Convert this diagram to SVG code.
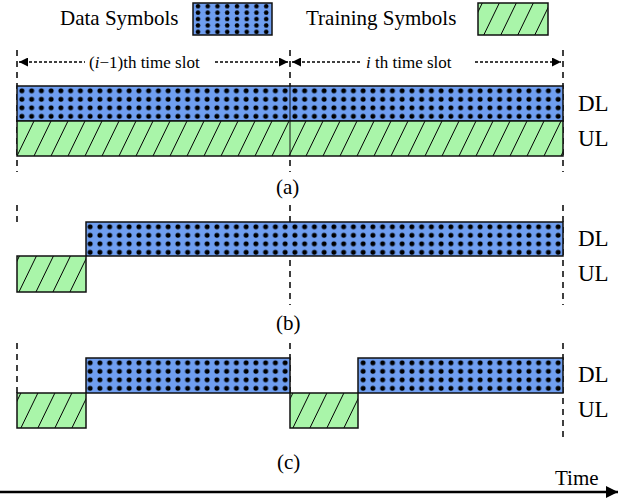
<svg xmlns="http://www.w3.org/2000/svg" width="626" height="504" viewBox="0 0 626 504" font-family="'Liberation Serif','Times New Roman','DejaVu Serif',serif">
<defs>
<pattern id="dots" patternUnits="userSpaceOnUse" x="17" y="86" width="9.75" height="8.5">
<rect width="9.75" height="8.5" fill="#6f9ef0"/><circle cx="4.9" cy="4.8" r="2.5" fill="#000"/></pattern>
<pattern id="dotsL" patternUnits="userSpaceOnUse" x="193" y="3" width="9.75" height="6.4">
<rect width="9.75" height="6.4" fill="#6f9ef0"/><circle cx="5" cy="3.2" r="2.3" fill="#000"/></pattern>
<pattern id="hatch" patternUnits="userSpaceOnUse" width="17" height="35" x="17" y="121">
<rect width="17" height="35" fill="#a9f5a9"/>
<path d="M-17,35 L0,0 M0,35 L17,0 M17,35 L34,0" stroke="#000" stroke-width="1"/></pattern>
<marker id="ar" viewBox="0 0 10 10" refX="10" refY="5" markerWidth="9" markerHeight="9" orient="auto-start-reverse" markerUnits="userSpaceOnUse"><path d="M0,0 L10,5 L0,10 z" fill="#000"/></marker>
<marker id="ar2" viewBox="0 0 10 10" refX="10" refY="5" markerWidth="14" markerHeight="12" orient="auto" markerUnits="userSpaceOnUse"><path d="M0,0 L10,5 L0,10 z" fill="#000"/></marker>
</defs>
<style>
text{font-family:'Liberation Serif','Times New Roman','DejaVu Serif',serif;font-size:21px;fill:#000}
.d{fill:url(#dots);stroke:#111;stroke-width:1.5}
.h{fill:url(#hatch);stroke:#111;stroke-width:1.5}
.v{stroke:#000;stroke-width:1.5;stroke-dasharray:6,5;fill:none}
.a{stroke:#000;stroke-width:1.5;stroke-dasharray:3,2;fill:none}
</style>
<g id="legend">
<text x="60" y="25">Data Symbols</text>
<rect x="193" y="3" width="79" height="32" fill="url(#dotsL)" stroke="#111" stroke-width="1.5"/>
<text x="306" y="25">Training Symbols</text>
<rect x="478" y="3" width="70" height="32" class="h"/>
</g>
<g id="connectors">
<path class="v" d="M17,50V172M290,50V172M563,50V172"/>
<path class="a" d="M19,62H85" marker-start="url(#ar)"/>
<path class="a" d="M215,62H288" marker-end="url(#ar)"/>
<path class="a" d="M292,62H360" marker-start="url(#ar)"/>
<path class="a" d="M475,62H561" marker-end="url(#ar)"/>
<path class="v" d="M17,205V222M290,205V305M563,205V305"/>
<path class="v" d="M17,343V393M290,343V393M563,343V440"/>
<path d="M0,492H618" stroke="#000" stroke-width="2.5" marker-end="url(#ar2)"/>
</g>
<g id="a">
<text x="89" y="68" font-size="17" style="font-size:17px">(<tspan font-style="italic" style="font-style:italic">i</tspan>−1)th time slot</text>
<text x="366" y="68" style="font-size:17px"><tspan style="font-style:italic">i</tspan> th time slot</text>
<rect class="d" x="17" y="86" width="546" height="35"/>
<line x1="290" y1="86" x2="290" y2="121" stroke="#111"/>
<rect class="h" x="17" y="121" width="546" height="35"/>
<line x1="290" y1="121" x2="290" y2="156" stroke="#111"/>
<text x="578" y="111" style="font-size:23px">DL</text>
<text x="578" y="146" style="font-size:23px">UL</text>
<text x="276" y="194">(a)</text>
</g>
<g id="b">
<rect class="d" x="86" y="222" width="477" height="34"/>
<rect class="h" x="17" y="256" width="69" height="36"/>
<text x="578" y="246" style="font-size:23px">DL</text>
<text x="578" y="281" style="font-size:23px">UL</text>
<text x="276" y="330">(b)</text>
</g>
<g id="c">
<rect class="d" x="86" y="358" width="204" height="35"/>
<rect class="d" x="358" y="358" width="205" height="35"/>
<rect class="h" x="17" y="393" width="69" height="35"/>
<rect class="h" x="290" y="393" width="68" height="35"/>
<text x="578" y="382" style="font-size:23px">DL</text>
<text x="578" y="417" style="font-size:23px">UL</text>
<text x="277" y="469">(c)</text>
</g>
<g id="time"><text x="555" y="485">Time</text></g>
</svg>
